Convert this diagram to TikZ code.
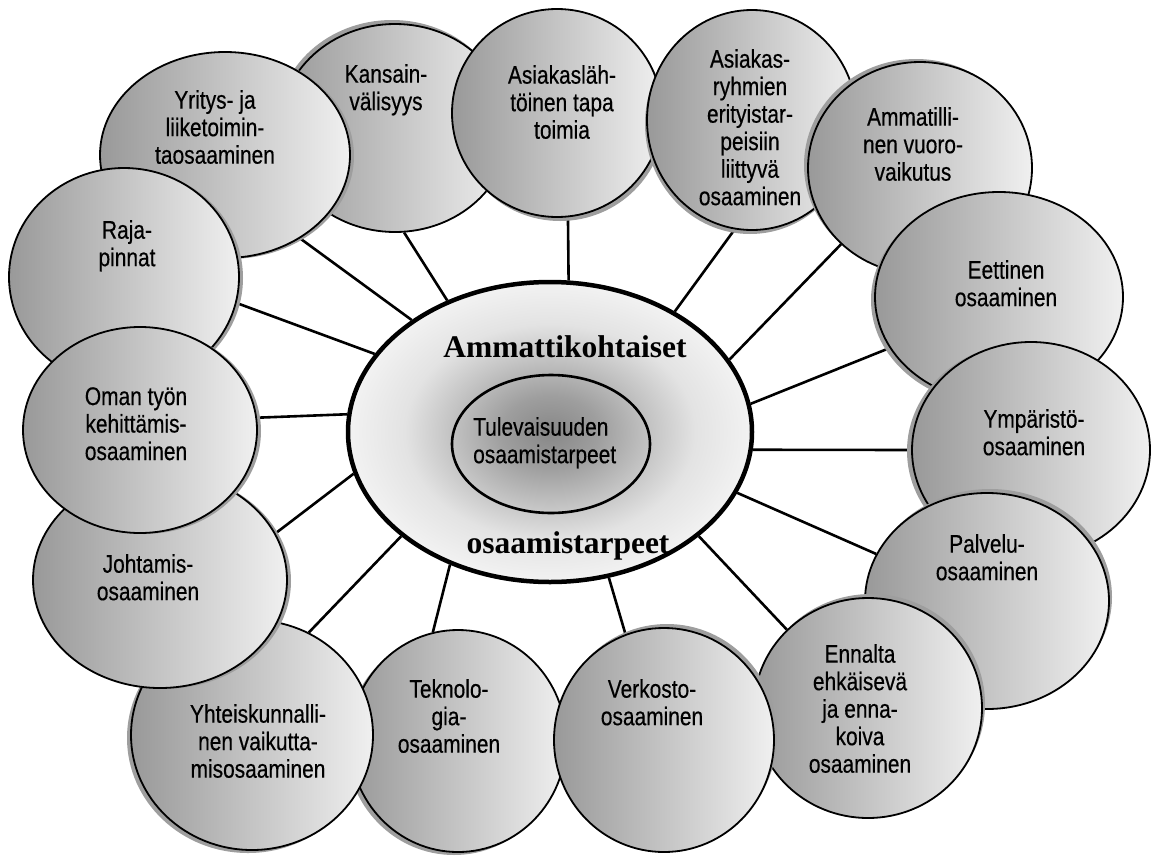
\documentclass[tikz,border=0pt]{standalone}
\usepackage{fontspec}
\newfontfamily\arialf[FakeStretch=0.82,FakeBold=0.4]{Liberation Sans}
\newfontfamily\timesf{Liberation Serif}
\usetikzlibrary{shapes.geometric,shadows,backgrounds}
\definecolor{cA}{gray}{0.53}
\definecolor{cB}{gray}{0.62}
\definecolor{cC}{gray}{0.77}
\definecolor{cD}{gray}{0.89}
\definecolor{cE}{gray}{0.95}
\pgfdeclareradialshading{centshade}{\pgfpoint{0bp}{0bp}}{color(0bp)=(cA); color(6bp)=(cB); color(12.5bp)=(cC); color(18bp)=(cD); color(25bp)=(cE); color(50bp)=(cE)}
\begin{document}
\begin{tikzpicture}[x=1pt,y=-1pt,
  bub/.style={ellipse, draw=black, line width=1.8pt, inner sep=0pt,
    left color=black!40, right color=black!6},
  sh/.style 2 args={drop shadow={shadow xshift=#1pt, shadow yshift=#2pt, fill=black!38, opacity=1}},
  lbl/.style={font=\arialf\fontsize{25.5}{27.5}\selectfont, align=center, inner sep=0pt, anchor=north},
  conn/.style={line width=2.6pt, draw=black},
  bigtxt/.style={font=\timesf\bfseries\fontsize{31.5}{36}\selectfont, inner sep=0pt, anchor=base}
]
\useasboundingbox (0,0) rectangle (1160,855);

% circles, bottom to top
\node[bub, sh={-3}{4},  minimum width=230, minimum height=208] (kan) at (395,128) {};
\node[bub, sh={3}{-4},  minimum width=210, minimum height=208] (asl) at (557,113) {};
\node[bub, sh={-2}{-4}, minimum width=210, minimum height=220] (asr) at (752,120) {};
\node[bub, sh={-4}{3},  minimum width=224, minimum height=212] (amm) at (920,168) {};
\node[bub, sh={-4}{-3}, minimum width=248, minimum height=210] (eet) at (999,297) {};
\node[bub, sh={-5}{-1}, minimum width=238, minimum height=216] (ymp) at (1031,450) {};
\node[bub, sh={3}{4},   minimum width=244, minimum height=216] (pal) at (987,601) {};
\node[bub, sh={3}{4},   minimum width=228, minimum height=220] (enn) at (868,708) {};
\node[bub, sh={-4}{-3}, minimum width=216, minimum height=222] (tek) at (458,741) {};
\node[bub, sh={3}{4},   minimum width=220, minimum height=224] (ver) at (664,740) {};
\node[bub, sh={-4}{-3}, minimum width=242, minimum height=230] (yht) at (252,735) {};
\node[bub, sh={4}{-1},  minimum width=254, minimum height=216] (joh) at (160,580) {};
\node[bub, sh={4}{-1},  minimum width=250, minimum height=206] (yri) at (225,155) {};
\node[bub, sh={4}{-1},  minimum width=230, minimum height=218] (raj) at (124,277) {};
\node[bub, sh={4}{-1},  minimum width=234, minimum height=206] (oma) at (140,430) {};

% central ellipses
\node[ellipse, draw=black, line width=4.5pt, inner sep=0pt, shading=centshade,
  minimum width=404, minimum height=300] (cen) at (550,432) {};
\node[ellipse, draw=black, line width=2.6pt, inner sep=0pt,
  minimum width=198, minimum height=138] (inn) at (551,444) {};

% connectors behind everything
\begin{pgfonlayer}{background}
\fill[white] (0,0) rectangle (1160,855);
\draw[conn] (yri.-48)   -- (cen.141.7);
\draw[conn] (kan.-85.6) -- (cen.128.2);
\draw[conn] (asl.-84)   -- (cen.83.2);
\draw[conn] (asr.261.4) -- (cen.44.8);
\draw[conn] (amm.224.3) -- (cen.22.9);
\draw[conn] (eet.205.3) -- (cen.8.5);
\draw[conn] (ymp.180)   -- (cen.-5.1);
\draw[conn] (pal.157.5) -- (cen.-18.1);
\draw[conn] (enn.136.1) -- (cen.-35.6);
\draw[conn] (ver.110.4) -- (cen.-68);
\draw[conn] (tek.103.7) -- (cen.233.4);
\draw[conn] (yht.61.9)  -- (cen.215.4);
\draw[conn] (joh.22.5)  -- (cen.192.6);
\draw[conn] (oma.6.2)   -- (cen.175.7);
\draw[conn] (raj.-13.6) -- (cen.156.6);
\end{pgfonlayer}

% labels
\node[lbl] (tkan) at (386,64)  {Kansain-\\välisyys};
\node[lbl] (tasl) at (562,65)  {Asiakasläh-\\töinen tapa\\toimia};
\node[lbl] (tasr) at (750,49)  {Asiakas-\\ryhmien\\erityistar-\\peisiin\\liittyvä\\osaaminen};
\node[lbl] (tamm) at (913,107) {Ammatilli-\\nen vuoro-\\vaikutus};
\node[lbl] (teet) at (1006,260) {Eettinen\\osaaminen};
\node[lbl] (tymp) at (1034,409) {Ympäristö-\\osaaminen};
\node[lbl] (tpal) at (987,534) {Palvelu-\\osaaminen};
\node[lbl] (tenn) at (860,644) {Ennalta\\ehkäisevä\\ja enna-\\koiva\\osaaminen};
\node[lbl] (tver) at (652,679) {Verkosto-\\osaaminen};
\node[lbl] (ttek) at (449,679) {Teknolo-\\gia-\\osaaminen};
\node[lbl] (tyht) at (258,704) {Yhteiskunnalli-\\nen vaikutta-\\misosaaminen};
\node[lbl] (tjoh) at (148,554) {Johtamis-\\osaaminen};
\node[lbl] (toma) at (136,387) {Oman työn\\kehittämis-\\osaaminen};
\node[lbl] (traj) at (127,220) {Raja-\\pinnat};
\node[lbl] (tyri) at (215,90)  {Yritys- ja\\liiketoimin-\\taosaaminen};

\node[bigtxt] (tcen1) at (565,357) {Ammattikohtaiset};
\node[bigtxt] (tcen2) at (568,553) {osaamistarpeet};
\node[lbl, align=left, anchor=north west] (tinn) at (473,417) {Tulevaisuuden\\osaamistarpeet};
\end{tikzpicture}
\end{document}
